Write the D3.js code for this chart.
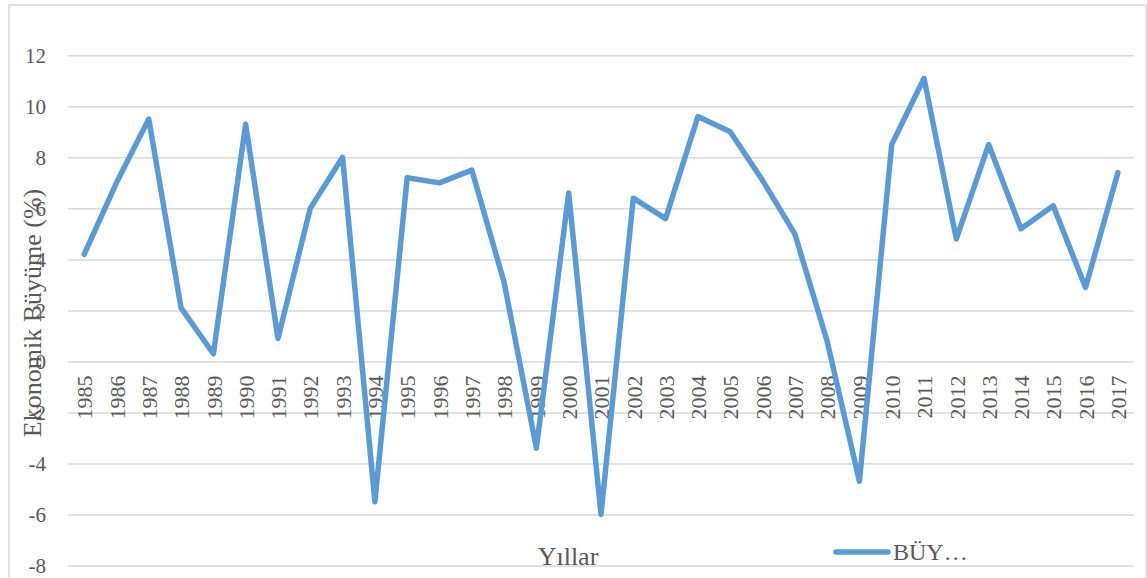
<!DOCTYPE html>
<html>
<head>
<meta charset="utf-8">
<script src="https://cdn.jsdelivr.net/npm/d3@7"></script>
<style>
  html, body { margin: 0; padding: 0; background: #ffffff; }
  svg { display: block; }
</style>
</head>
<body>
<svg id="chart" width="1147" height="578"></svg>
<script>
const years = ["1985","1986","1987","1988","1989","1990","1991","1992","1993","1994","1995","1996","1997","1998","1999","2000","2001","2002","2003","2004","2005","2006","2007","2008","2009","2010","2011","2012","2013","2014","2015","2016","2017"];
const growth = [4.2,7.0,9.5,2.1,0.3,9.3,0.9,6.0,8.0,-5.5,7.2,7.0,7.5,3.1,-3.4,6.6,-6.0,6.4,5.6,9.6,9.0,7.1,5.0,0.8,-4.7,8.5,11.1,4.8,8.5,5.2,6.1,2.9,7.4];
const yTicks = [-8,-6,-4,-2,0,2,4,6,8,10,12];
const yTitle = "Ekonomik Büyüme (%)";
const xTitle = "Yıllar";
const legendLabel = "BÜY…";

const svg = d3.select("#chart");
const plotLeft = 68, plotRight = 1134, plotTop = 55.3, plotBottom = 565.5;
const textColor = "#595959";
const gridColor = "#d9d9d9";
const lineColor = "#5B9BD5";
const fontFam = "'Liberation Serif', 'Times New Roman', serif";

// outer border
svg.append("rect").attr("x", 9).attr("y", 5).attr("width", 1137).attr("height", 600)
  .attr("fill", "#fff").attr("stroke", gridColor).attr("stroke-width", 1.5);

const x = d3.scalePoint().domain(years).range([plotLeft, plotRight]).padding(0.5);
const y = d3.scaleLinear().domain([-8, 12]).range([plotBottom, plotTop]);

// gridlines
const yAxis = d3.axisLeft(y).tickValues(yTicks).tickSize(-(plotRight - plotLeft)).tickPadding(22).tickFormat(d => String(d));
const gY = svg.append("g").attr("transform", `translate(${plotLeft},0)`).call(yAxis);
gY.select(".domain").remove();
gY.selectAll(".tick line").attr("stroke", gridColor).attr("stroke-width", 1.5);
gY.selectAll(".tick text").attr("fill", textColor).attr("font-family", fontFam).attr("font-size", 21);

// x axis labels at y=0 line, rotated
const xAxis = d3.axisBottom(x).tickSize(0).tickPadding(0);
const gX = svg.append("g").attr("transform", `translate(0,${y(0)})`).call(xAxis);
gX.select(".domain").remove();
gX.selectAll(".tick text")
  .attr("fill", textColor).attr("font-family", fontFam).attr("font-size", 22)
  .attr("transform", "rotate(-90)")
  .attr("x", -14).attr("y", 0).attr("dy", "0.35em")
  .attr("text-anchor", "end");

// line
const line = d3.line().x((d, i) => x(years[i])).y(d => y(d));
svg.append("path").datum(growth)
  .attr("d", line).attr("fill", "none").attr("stroke", lineColor)
  .attr("stroke-width", 5.5).attr("stroke-linejoin", "round").attr("stroke-linecap", "round");

// y title
svg.append("text").attr("transform", "translate(41,313) rotate(-90)")
  .attr("text-anchor", "middle").attr("fill", textColor)
  .attr("font-family", fontFam).attr("font-size", 26).text(yTitle);

// x title
svg.append("text").attr("x", 568).attr("y", 565).attr("text-anchor", "middle")
  .attr("fill", textColor).attr("font-family", fontFam).attr("font-size", 26).text(xTitle);

// legend
svg.append("line").attr("x1", 836).attr("x2", 888).attr("y1", 552).attr("y2", 552)
  .attr("stroke", lineColor).attr("stroke-width", 5.5).attr("stroke-linecap", "round");
svg.append("text").attr("x", 893).attr("y", 560).attr("fill", textColor)
  .attr("font-family", fontFam).attr("font-size", 24).text(legendLabel);
</script>
</body>
</html>
